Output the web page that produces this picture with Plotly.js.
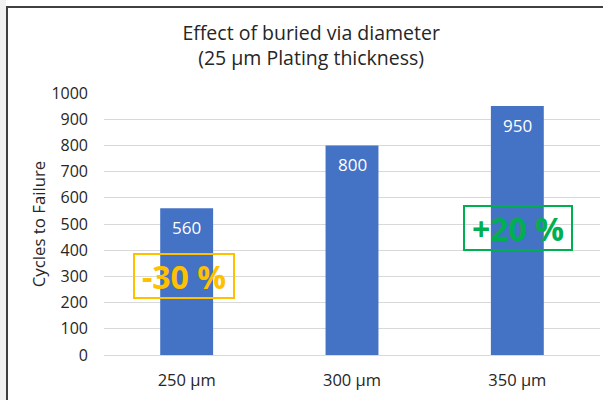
<!DOCTYPE html>
<html>
<head>
<meta charset="utf-8">
<script src="https://cdn.plot.ly/plotly-3.0.1.min.js"></script>
<style>
  html, body { margin: 0; padding: 0; background: #ffffff; }
  #wrap { position: relative; width: 603px; height: 400px; overflow: hidden; }
  #strip { position: absolute; left: 0; top: 0; width: 6px; height: 400px; background: #f2f2f2; }
  #frame { position: absolute; left: 6px; top: 6px; width: 620px; height: 420px;
           border-left: 2px solid #404040; border-top: 2px solid #404040; background: #ffffff; }
  #chart { position: absolute; left: 0; top: 0; width: 603px; height: 400px; }
</style>
</head>
<body>
<div id="wrap">
  <div id="strip"></div>
  <div id="frame"></div>
  <div id="chart"></div>
</div>
<script>
const categories = ["250 μm", "300 μm", "350 μm"];
const cycles = [560, 800, 950];
const changeLabels = ["-30 %", "+20 %"];
const changeCategories = ["250 μm", "350 μm"];
const changeLevels = [300, 485];
const changeColors = ["#FFC000", "#00B050"];

const font = "'Open Sans', 'Noto Sans', sans-serif";

const trace = {
  type: "bar",
  x: categories,
  y: cycles,
  marker: { color: "#4472C4" },
  hoverinfo: "none"
};

const annotations = [];
categories.forEach((c, i) => {
  annotations.push({
    x: c, y: cycles[i], xref: "x", yref: "y",
    text: String(cycles[i]), showarrow: false,
    yanchor: "middle", yshift: -19,
    font: { family: font, size: 17, color: "#ffffff" }
  });
});
const boxW = [98, 106];
changeLabels.forEach((t, i) => {
  annotations.push({
    x: changeCategories[i], y: changeLevels[i], xref: "x", yref: "y",
    text: "<b>" + t + "</b>", showarrow: false,
    xshift: i === 0 ? -3 : 1,
    width: boxW[i], height: 42, borderpad: 0, borderwidth: 2,
    bordercolor: changeColors[i], bgcolor: "rgba(0,0,0,0)",
    font: { family: font, size: 32, color: changeColors[i] }
  });
});

const layout = {
  width: 603, height: 400,
  paper_bgcolor: "rgba(0,0,0,0)",
  plot_bgcolor: "rgba(0,0,0,0)",
  margin: { l: 104, r: 3, t: 93, b: 45 },
  showlegend: false,
  bargap: 0.68,
  title: {
    text: "Effect of buried via diameter<br>(25 μm Plating thickness)",
    x: 0.516, xanchor: "center",
    y: 0.9, yanchor: "middle", yref: "container",
    font: { family: font, size: 19.5, color: "#262626" }
  },
  xaxis: {
    type: "category",
    showgrid: false, zeroline: false, showline: false,
    ticks: "", ticklabelstandoff: 13,
    tickfont: { family: font, size: 16.5, color: "#262626" }
  },
  yaxis: {
    range: [0, 1000], dtick: 100, tick0: 0,
    showgrid: true, gridcolor: "#d9d9d9", gridwidth: 1,
    zeroline: true, zerolinecolor: "#d9d9d9", zerolinewidth: 1,
    showline: false, ticks: "", ticklabelstandoff: 15,
    tickfont: { family: font, size: 16, color: "#262626" },
    title: { text: "Cycles to Failure", standoff: 1,
             font: { family: font, size: 16.8, color: "#262626" } }
  },
  annotations: annotations
};

Plotly.newPlot("chart", [trace], layout, { displayModeBar: false, staticPlot: true });
</script>
</body>
</html>
